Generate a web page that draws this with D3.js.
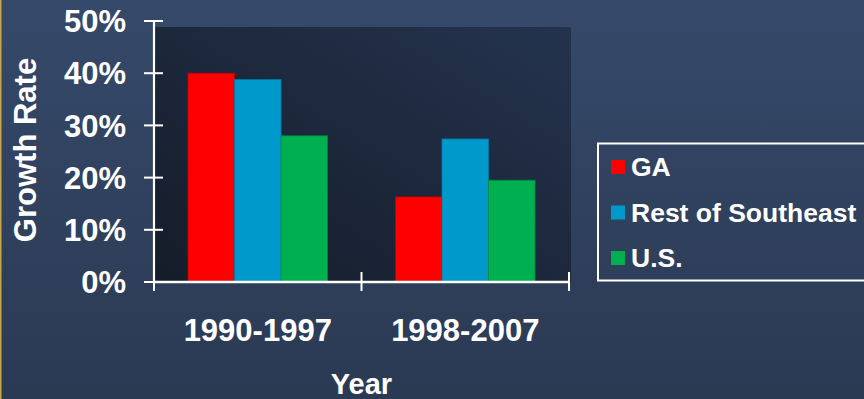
<!DOCTYPE html>
<html>
<head>
<meta charset="utf-8">
<script src="https://cdn.jsdelivr.net/npm/d3@7"></script>
<style>
  html, body { margin: 0; padding: 0; background: #2f405c; }
  svg { display: block; font-family: Arial, "Liberation Sans", sans-serif; font-weight: bold; }
</style>
</head>
<body>
<svg id="chart" width="864" height="399"></svg>
<script>
const categories = ["1990-1997", "1998-2007"];
const seriesNames = ["GA", "Rest of Southeast", "U.S."];
const gaValues = [0.40, 0.163];
const restValues = [0.388, 0.274];
const usValues = [0.28, 0.195];
const yTicks = [0, 0.1, 0.2, 0.3, 0.4, 0.5];

const colors = ["#ff0000", "#0099cc", "#00b050"];
const strokes = ["#c00000", "#007aa3", "#008a40"];

const values = [gaValues, restValues, usValues];
const rows = [];
categories.forEach((c, i) => {
    seriesNames.forEach((s, j) => {
        rows.push({ cat: c, series: s, idx: j, value: values[j][i] });
    });
});

const svg = d3.select("#chart");

// background gradients
const defs = svg.append("defs");
const bg = defs.append("linearGradient").attr("id", "bg").attr("x1", 0).attr("y1", 0).attr("x2", 0).attr("y2", 1);
bg.append("stop").attr("offset", "0%").attr("stop-color", "#35496a");
bg.append("stop").attr("offset", "100%").attr("stop-color", "#2b3a53");
const pg = defs.append("linearGradient").attr("id", "pg").attr("x1", 0).attr("y1", 1).attr("x2", 1).attr("y2", 0);
pg.append("stop").attr("offset", "0%").attr("stop-color", "#151c29");
pg.append("stop").attr("offset", "100%").attr("stop-color", "#24334e");

svg.append("rect").attr("width", 864).attr("height", 399).attr("fill", "url(#bg)");
svg.append("rect").attr("x", 0).attr("y", 0).attr("width", 1.5).attr("height", 399).attr("fill", "#c9a548");

const x0 = d3.scaleBand().domain(categories).range([154, 569]);
const x1 = d3.scaleBand().domain(seriesNames).range([34, x0.bandwidth() - 34]);
const y = d3.scaleLinear().domain([0, 0.5]).range([282, 21]);

// plot area
svg.append("rect")
    .attr("x", x0.range()[0])
    .attr("y", 27)
    .attr("width", 571 - x0.range()[0])
    .attr("height", y(0) - 27)
    .attr("fill", "url(#pg)");

// bars
svg.append("g")
    .selectAll("rect")
    .data(rows)
    .enter()
    .append("rect")
    .attr("x", (d) => x0(d.cat) + x1(d.series))
    .attr("y", (d) => y(d.value))
    .attr("width", x1.bandwidth())
    .attr("height", (d) => y(0) - y(d.value))
    .attr("fill", (d) => colors[d.idx])
    .attr("stroke", (d) => strokes[d.idx])
    .attr("stroke-width", 0.8);

// y axis
const yAxis = svg.append("g");
yAxis.append("line")
    .attr("x1", 154).attr("x2", 154)
    .attr("y1", y(0.5)).attr("y2", y(0) + 1)
    .attr("stroke", "#fff").attr("stroke-width", 2.2);
yAxis.selectAll("line.tick")
    .data(yTicks)
    .enter()
    .append("line")
    .attr("class", "tick")
    .attr("x1", 144).attr("x2", 163)
    .attr("y1", (d) => y(d)).attr("y2", (d) => y(d))
    .attr("stroke", "#fff").attr("stroke-width", 2);
yAxis.selectAll("text")
    .data(yTicks)
    .enter()
    .append("text")
    .attr("x", 126)
    .attr("y", (d) => y(d))
    .attr("dy", "0.36em")
    .attr("text-anchor", "end")
    .attr("fill", "#fff")
    .attr("font-size", 31)
    .text((d) => d3.format(".0%")(d));

// x axis
const xAxis = svg.append("g");
xAxis.append("line")
    .attr("x1", 153).attr("x2", 570)
    .attr("y1", y(0)).attr("y2", y(0))
    .attr("stroke", "#fff").attr("stroke-width", 2.5);
const xTickPos = [x0.range()[0], ...categories.map((c) => x0(c) + x0.bandwidth())];
xAxis.selectAll("line.tick")
    .data(xTickPos)
    .enter()
    .append("line")
    .attr("class", "tick")
    .attr("x1", (d) => d).attr("x2", (d) => d)
    .attr("y1", y(0) - 10).attr("y2", y(0) + 9)
    .attr("stroke", "#fff").attr("stroke-width", 2);
xAxis.selectAll("text")
    .data(categories)
    .enter()
    .append("text")
    .attr("x", (d) => x0(d) + x0.bandwidth() / 2)
    .attr("y", 341)
    .attr("text-anchor", "middle")
    .attr("fill", "#fff")
    .attr("font-size", 31)
    .text((d) => d);

// axis titles
svg.append("text")
    .attr("x", 361.5)
    .attr("y", 394)
    .attr("text-anchor", "middle")
    .attr("fill", "#fff")
    .attr("font-size", 29)
    .text("Year");
svg.append("text")
    .attr("transform", "translate(36,150) rotate(-90)")
    .attr("text-anchor", "middle")
    .attr("fill", "#fff")
    .attr("font-size", 31)
    .text("Growth Rate");

// legend
const legend = svg.append("g");
legend.append("rect")
    .attr("x", 598).attr("y", 143.5)
    .attr("width", 300).attr("height", 137)
    .attr("fill", "none")
    .attr("stroke", "#fff").attr("stroke-width", 2);
const item = legend.selectAll("g.item")
    .data(seriesNames)
    .enter()
    .append("g")
    .attr("class", "item")
    .attr("transform", (d, i) => `translate(611,${167 + i * 45.5})`);
item.append("rect")
    .attr("x", 0).attr("y", -7)
    .attr("width", 14).attr("height", 14)
    .attr("fill", (d, i) => colors[i]);
item.append("text")
    .attr("x", 20)
    .attr("y", 9)
    .attr("fill", "#fff")
    .attr("font-size", 26.5)
    .text((d) => d);
</script>
</body>
</html>
